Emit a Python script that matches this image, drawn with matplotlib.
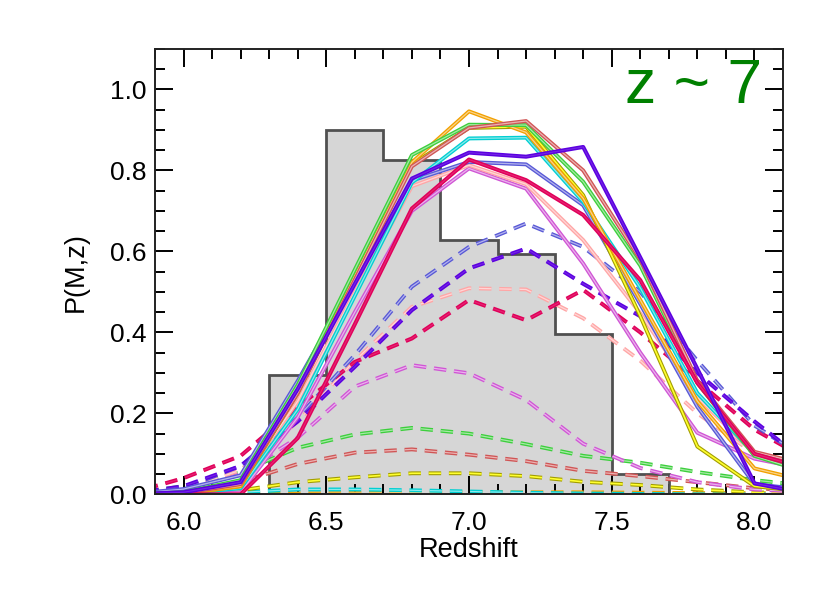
import matplotlib
matplotlib.use("Agg")
import matplotlib.pyplot as plt
import matplotlib.patheffects as pe
from matplotlib.colors import to_rgb
from matplotlib.ticker import MultipleLocator, FormatStrFormatter

plt.rcParams['font.family'] = ['Liberation Sans', 'DejaVu Sans']

# ---------------- data ----------------
z_grid = [5.8, 6.0, 6.2, 6.4, 6.6, 6.8, 7.0, 7.2, 7.4, 7.6, 7.8, 8.0, 8.2]

hist_edges = [6.3, 6.5, 6.7, 6.9, 7.1, 7.3, 7.5, 7.7]
hist_vals = [0.295, 0.900, 0.827, 0.628, 0.593, 0.396, 0.050]

# solid curves
p_orange  = [0.0, 0.002, 0.020, 0.255, 0.540, 0.820, 0.946, 0.894, 0.731, 0.480, 0.230, 0.064, 0.030]
p_brown   = [0.0, 0.003, 0.025, 0.250, 0.530, 0.810, 0.905, 0.922, 0.800, 0.580, 0.280, 0.105, 0.070]
p_green   = [0.0, 0.005, 0.035, 0.270, 0.555, 0.838, 0.913, 0.912, 0.772, 0.565, 0.275, 0.095, 0.050]
p_yellow  = [0.0, 0.002, 0.020, 0.250, 0.535, 0.815, 0.905, 0.908, 0.739, 0.440, 0.118, 0.020, 0.005]
p_cyan    = [0.0, 0.002, 0.015, 0.210, 0.490, 0.770, 0.879, 0.881, 0.722, 0.510, 0.250, 0.100, 0.060]
p_indigo  = [0.0, 0.005, 0.030, 0.260, 0.520, 0.780, 0.844, 0.834, 0.858, 0.585, 0.310, 0.027, 0.000]
p_slate   = [0.0, 0.013, 0.047, 0.280, 0.530, 0.775, 0.821, 0.815, 0.714, 0.470, 0.216, 0.025, 0.010]
p_crimson = [0.0, 0.000, 0.000, 0.139, 0.420, 0.706, 0.827, 0.776, 0.690, 0.529, 0.275, 0.100, 0.060]
p_pink    = [0.0, 0.005, 0.027, 0.230, 0.500, 0.761, 0.813, 0.766, 0.628, 0.447, 0.240, 0.100, 0.060]
p_magenta = [0.0, 0.000, 0.005, 0.190, 0.450, 0.700, 0.805, 0.755, 0.570, 0.350, 0.152, 0.088, 0.060]

# dashed curves
d_slate   = [0.0, 0.015, 0.070, 0.190, 0.344, 0.513, 0.611, 0.669, 0.611, 0.500, 0.330, 0.170, 0.080]
d_indigo  = [0.0, 0.020, 0.070, 0.180, 0.315, 0.455, 0.558, 0.607, 0.520, 0.440, 0.300, 0.180, 0.070]
d_pink    = [0.0, 0.010, 0.060, 0.180, 0.330, 0.463, 0.509, 0.506, 0.435, 0.330, 0.200, 0.100, 0.050]
d_crimson = [0.0, 0.040, 0.095, 0.215, 0.327, 0.385, 0.480, 0.430, 0.505, 0.400, 0.280, 0.160, 0.080]
d_magenta = [0.0, 0.015, 0.050, 0.140, 0.266, 0.319, 0.299, 0.233, 0.125, 0.065, 0.030, 0.012, 0.005]
d_green   = [0.0, 0.020, 0.055, 0.115, 0.148, 0.164, 0.150, 0.124, 0.095, 0.078, 0.055, 0.035, 0.020]
d_brown   = [0.0, 0.005, 0.030, 0.075, 0.103, 0.111, 0.098, 0.082, 0.058, 0.045, 0.030, 0.015, 0.008]
d_yellow  = [0.0, 0.000, 0.010, 0.030, 0.042, 0.052, 0.052, 0.045, 0.031, 0.023, 0.012, 0.005, 0.002]
d_cyan    = [0.0, 0.000, 0.005, 0.012, 0.012, 0.010, 0.007, 0.004, 0.002, 0.001, 0.000, 0.000, 0.000]
d_orange  = [0.0, 0.000, 0.001, 0.002, 0.003, 0.004, 0.005, 0.005, 0.005, 0.004, 0.003, 0.003, 0.002]

# ---------------- styling ----------------
col = {
    'orange': '#f2a000', 'brown': '#d05555', 'green': '#3ccf3c', 'yellow': '#e8e000',
    'cyan': '#00cfd2', 'indigo': '#5c00e0', 'slate': '#5858d6', 'crimson': '#e0005a',
    'pink': '#ffa6a6', 'magenta': '#d055d5',
}

def light(c, f=0.55):
    r, g, b = to_rgb(c)
    return (r + (1 - r) * f, g + (1 - g) * f, b + (1 - b) * f)

def dark(c, f=0.25):
    r, g, b = to_rgb(c)
    return (r * (1 - f), g * (1 - f), b * (1 - f))

def effects(c, name, solid_core=False):
    if name == 'yellow':
        return [pe.Stroke(linewidth=2.8, foreground=dark(c, 0.3)),
                pe.Stroke(linewidth=1.2, foreground='#ffff30')]
    if solid_core:
        return [pe.Stroke(linewidth=2.9, foreground=c),
                pe.Stroke(linewidth=0.8, foreground=light(c, 0.15))]
    return [pe.Stroke(linewidth=2.8, foreground=c),
            pe.Stroke(linewidth=0.9, foreground=light(c, 0.55))]

fig = plt.figure(figsize=(8.3, 5.93), dpi=100)
ax = fig.add_axes([0.1867, 0.1664, 0.7567, 0.751])

# histogram
ax.stairs(hist_vals, hist_edges, fill=True, color='#d6d6d6', zorder=1)
ax.stairs(hist_vals, hist_edges, baseline=0, fill=False, edgecolor='#505050',
          linewidth=2.0, zorder=2)

dashed = [('orange', d_orange), ('cyan', d_cyan), ('yellow', d_yellow), ('brown', d_brown),
          ('green', d_green), ('magenta', d_magenta), ('pink', d_pink), ('crimson', d_crimson),
          ('slate', d_slate), ('indigo', d_indigo)]
for name, vals in dashed:
    c = col[name]
    ax.plot(z_grid, vals, color=c, lw=2.8, dashes=(3.2, 2.0), zorder=3,
            path_effects=effects(c, name, solid_core=name in ('indigo', 'crimson')))

solid = [('magenta', p_magenta), ('pink', p_pink), ('slate', p_slate), ('cyan', p_cyan),
         ('yellow', p_yellow), ('orange', p_orange), ('green', p_green), ('brown', p_brown),
         ('crimson', p_crimson), ('indigo', p_indigo)]
for name, vals in solid:
    c = col[name]
    ax.plot(z_grid, vals, color=c, lw=2.8, zorder=4,
            path_effects=effects(c, name, solid_core=name in ('indigo', 'crimson')))

ax.set_xlim(5.9, 8.1)
ax.set_ylim(0.0, 1.1)

ax.xaxis.set_major_locator(MultipleLocator(0.5))
ax.xaxis.set_minor_locator(MultipleLocator(0.1))
ax.yaxis.set_major_locator(MultipleLocator(0.2))
ax.yaxis.set_minor_locator(MultipleLocator(0.05))
ax.xaxis.set_major_formatter(FormatStrFormatter('%.1f'))
ax.yaxis.set_major_formatter(FormatStrFormatter('%.1f'))

ax.tick_params(which='both', direction='in', top=True, right=True, colors='black',
               width=1.4, labelsize=19)
ax.tick_params(which='major', length=13)
ax.tick_params(which='minor', length=7)
ax.tick_params(axis='x', which='major', pad=12)
ax.tick_params(axis='y', which='major', pad=6)
for s in ax.spines.values():
    s.set_linewidth(1.4)
    s.set_color('#222222')
    s.set_zorder(6)

ax.set_xlabel('Redshift', fontsize=19.5)
ax.set_ylabel('P(M,z)', fontsize=19.5)
ax.xaxis.set_label_coords(0.5, -0.095)
ax.yaxis.set_label_coords(-0.105, 0.5)

ax.text(0.967, 0.879, 'z ~ 7', transform=ax.transAxes, ha='right', va='baseline',
        fontsize=45, color='#008000', zorder=7)

fig.savefig('out.png', dpi=100)
